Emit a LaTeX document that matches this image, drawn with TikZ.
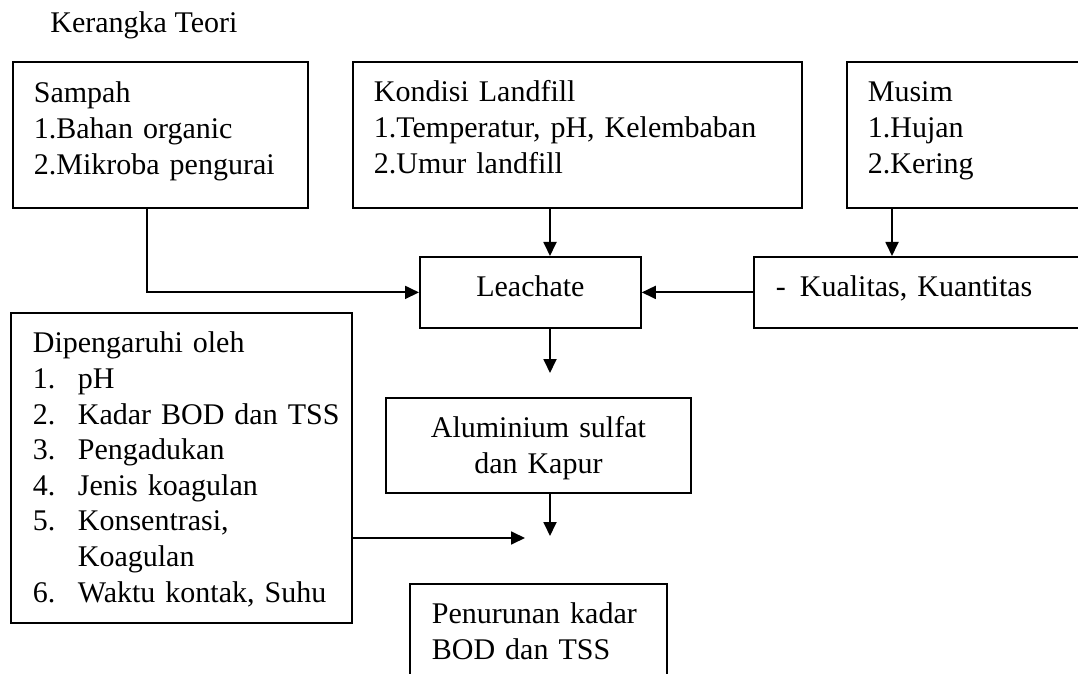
\documentclass[tikz,border=0pt]{standalone}
\usepackage{fontspec}
\setmainfont{Liberation Serif}
\usetikzlibrary{arrows.meta,calc}
\begin{document}
\begin{tikzpicture}[x=0.5pt,y=-0.5pt,
  every node/.style={font=\fontsize{15pt}{17.8pt}\selectfont},
  box/.style={draw, line width=0.9pt, anchor=north west, inner ysep=0pt, inner xsep=10.5pt, align=left},
  arr/.style={line width=0.9pt, -{Triangle[length=7pt,width=6.5pt]}}
]
\path[use as bounding box] (0,0) rectangle (1078,674);
\clip (0,0) rectangle (1078,674);

\node[anchor=base west, inner sep=0pt] (title) at (50,33) {Kerangka Teori};

\node[box, text width=126.5pt, text height=20.5pt, text depth=52.5pt, minimum height=73pt] (sampah) at (12,61)
  {Sampah\\1.Bahan organic\\2.Mikroba pengurai};
\node[box, text width=203.5pt, text height=20pt, text depth=53pt, minimum height=73pt] (kondisi) at (352,61)
  {Kondisi Landfill\\1.Temperatur, pH, Kelembaban\\2.Umur landfill};
\node[box, text width=129pt, text height=20pt, text depth=53pt, minimum height=73pt] (musim) at (846,61)
  {Musim\\1.Hujan\\2.Kering};
\node[box, align=center, text width=89.5pt, text height=20pt, text depth=15.5pt, minimum height=35.5pt] (leachate) at (419,256)
  {Leachate};
\node[box, inner xsep=11pt, text width=178pt, text height=20pt, text depth=15.5pt, minimum height=35.5pt] (kualitas) at (753,256)
  {-\hspace{7pt}Kualitas, Kuantitas};
\node[box, inner xsep=11pt, text width=148.5pt, text height=20pt, text depth=135pt, minimum height=155pt] (dip) at (10,312)
  {Dipengaruhi oleh\\
   \makebox[22.5pt][l]{1.}pH\\
   \makebox[22.5pt][l]{2.}\mbox{Kadar BOD dan TSS}\\
   \makebox[22.5pt][l]{3.}Pengadukan\\
   \makebox[22.5pt][l]{4.}Jenis koagulan\\
   \makebox[22.5pt][l]{5.}Konsentrasi,\\
   \hspace*{22.5pt}Koagulan\\
   \makebox[22.5pt][l]{6.}\mbox{Waktu kontak, Suhu}};
\node[box, align=center, text width=131.5pt, text height=20pt, text depth=27.5pt, minimum height=47.5pt] (alum) at (385,397)
  {Aluminium sulfat\\dan Kapur};
\node[box, inner xsep=11pt, text width=106.5pt, text height=20pt, text depth=27.5pt, minimum height=47.5pt] (pen) at (409,583)
  {Penurunan kadar\\BOD dan TSS};

\coordinate (sx) at (147,0);
\coordinate (kx) at (550,0);
\coordinate (mx) at (892,0);
\coordinate (meet) at (549,538);

\draw[arr] (sampah.south -| sx) |- (leachate.west);
\draw[arr] (kondisi.south -| kx) -- (leachate.north -| kx);
\draw[arr] (musim.south -| mx) -- (kualitas.north -| mx);
\draw[arr] (kualitas.west) -- (leachate.east);
\draw[arr, shorten >=12pt] (leachate.south -| kx) -- (alum.north -| kx);
\draw[arr, shorten >=23.5pt] (alum.south -| kx) -- (pen.north -| kx);
\draw[arr, shorten >=12pt] (dip.east |- meet) -- (meet);
\end{tikzpicture}
\end{document}
